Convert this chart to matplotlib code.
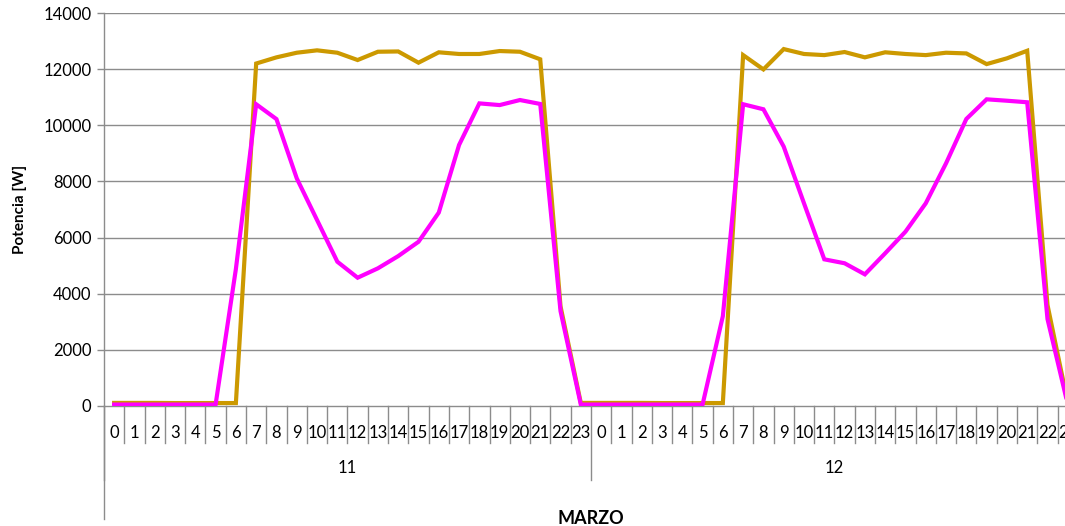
import matplotlib
matplotlib.use("Agg")
import matplotlib.pyplot as plt

days = ["11", "12"]
hours = [str(h) for h in range(24)]
month_label = "MARZO"
y_label = "Potencia [W]"
y_ticks = [0, 2000, 4000, 6000, 8000, 10000, 12000, 14000]

gold_day11 = [110, 110, 110, 105, 105, 105, 105, 12200, 12420, 12585, 12670, 12585,
              12325, 12620, 12630, 12230, 12600, 12540, 12540, 12645, 12620, 12350,
              3550, 110]
magenta_day11 = [50, 50, 50, 50, 50, 50, 4880, 10750, 10220, 8110, 6625, 5140,
                 4570, 4905, 5340, 5850, 6890, 9300, 10780, 10720, 10900, 10760,
                 3380, 50]
gold_day12 = [110, 110, 110, 105, 105, 105, 105, 12500, 11990, 12715, 12540, 12500,
              12610, 12420, 12600, 12540, 12500, 12585, 12560, 12180, 12385, 12655,
              3600, 110]
magenta_day12 = [50, 50, 50, 50, 50, 50, 3200, 10750, 10570, 9240, 7220, 5225,
                 5085, 4690, 5440, 6210, 7220, 8645, 10225, 10925, 10875, 10820,
                 3100, 50]

gold = gold_day11 + gold_day12
magenta = magenta_day11 + magenta_day12
n = len(gold)
xs = list(range(n))

W, H = 1065, 526
fig = plt.figure(figsize=(W / 100, H / 100), dpi=100)
left_px, right_px, top_px, bottom_px = 104, 1065, 13, 406
ax = fig.add_axes([left_px / W, 1 - bottom_px / H,
                   (right_px - left_px) / W, (bottom_px - top_px) / H])

font = "Lato"
grid_c = "#8c8c8c"

ax.plot(xs, gold, color="#CC9900", lw=3.0, solid_joinstyle="miter", zorder=3)
ax.plot(xs, magenta, color="#FF00FF", lw=3.0, solid_joinstyle="miter", zorder=4)

cat_w = 20.29
ax.set_xlim(-0.5, -0.5 + (right_px - left_px) / cat_w)
ax.set_ylim(0, 14000)
ax.set_yticks(y_ticks)
ax.set_yticklabels([str(v) for v in y_ticks], fontfamily=font, fontsize=12)
ax.tick_params(axis="y", length=5, width=1, color=grid_c, pad=4)
for v in y_ticks[1:]:
    ax.axhline(v, color=grid_c, lw=1.0, zorder=1)

ax.set_xticks([])
for s in ["top", "right"]:
    ax.spines[s].set_visible(False)
ax.spines["left"].set_color(grid_c)
ax.spines["bottom"].set_color(grid_c)
ax.spines["left"].set_linewidth(1.0)
ax.spines["bottom"].set_linewidth(1.0)

axh = bottom_px - top_px
def fy(px):
    return -(px - bottom_px) / axh

tr = ax.get_xaxis_transform()
# category separators
for k in range(n + 1):
    xk = k - 0.5
    if k % 24 == 0:
        y_end = fy(480)
    else:
        y_end = fy(443)
    ax.plot([xk, xk], [0, y_end], transform=tr, color=grid_c, lw=1.0, clip_on=False)
ax.plot([-0.5, -0.5], [0, fy(519)], transform=tr, color=grid_c, lw=1.0, clip_on=False)

labels = hours * len(days)
for k, lab in enumerate(labels):
    ax.text(k, fy(433), lab, transform=tr, ha="center", va="center",
            fontfamily=font, fontsize=12, color="black", clip_on=False)
for d, day in enumerate(days):
    ax.text(d * 24 + 11.5, fy(468), day, transform=tr, ha="center", va="center",
            fontfamily=font, fontsize=12, color="black")
ax.text(23.5, fy(518), month_label, transform=tr, ha="center", va="center",
        fontfamily=font, fontsize=13, fontweight="bold", color="black")

fig.text(20 / W, 1 - 209 / H, y_label, rotation=90, ha="center", va="center",
         fontfamily=font, fontsize=11, fontweight="bold", color="black")

fig.savefig("out.png", dpi=100)
